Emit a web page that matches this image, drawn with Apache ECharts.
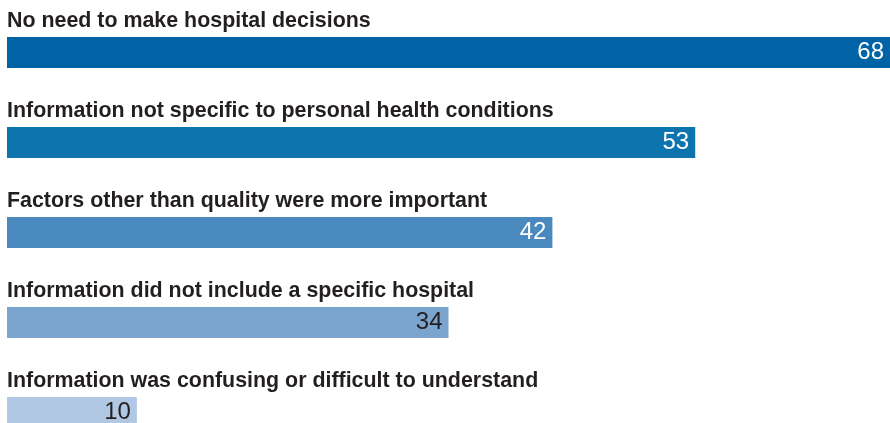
<!DOCTYPE html>
<html>
<head>
<meta charset="utf-8">
<script src="https://cdn.jsdelivr.net/npm/echarts@6/dist/echarts.min.js"></script>
<style>
  html, body { margin: 0; padding: 0; background: #fff; }
  #chart { width: 890px; height: 423px; }
</style>
</head>
<body>
<div id="chart"></div>
<script>
const categories = [
  'No need to make hospital decisions',
  'Information not specific to personal health conditions',
  'Factors other than quality were more important',
  'Information did not include a specific hospital',
  'Information was confusing or difficult to understand'
]
const values = [68, 53, 42, 34, 10]
const barColors = ['#0063a6', '#0e74ae', '#4a89be', '#7ba5cf', '#b1c8e4']
const valueColors = ['#ffffff', '#ffffff', '#ffffff', '#231f20', '#231f20']

const chart = echarts.init(document.getElementById('chart'))

// 条形图配置
const option = {
  animation: false,
  grid: { left: 7, top: 7.5, width: 883, height: 450, outerBoundsMode: 'none' },
  xAxis: {
    type: 'value',
    min: 0,
    max: 68,
    show: false
  },
  yAxis: {
    type: 'category',
    inverse: true,
    data: categories,
    axisLine: { show: false },
    axisTick: { show: false },
    splitLine: { show: false },
    axisLabel: {
      inside: true,
      margin: 0,
      align: 'left',
      verticalAlign: 'bottom',
      padding: [0, 0, 21, 0],
      fontFamily: 'Liberation Sans, Arial, sans-serif',
      fontWeight: 'bold',
      fontSize: 21.4,
      color: '#231f20'
    },
    z: 10
  },
  series: [
    {
      type: 'bar',
      barWidth: 31,
      data: values.map((v, i) => ({
        value: v,
        itemStyle: { color: barColors[i] },
        label: { color: valueColors[i] }
      })),
      label: {
        show: true,
        position: 'insideRight',
        distance: 6,
        fontFamily: 'Liberation Sans, Arial, sans-serif',
        fontSize: 24
      }
    }
  ]
}

chart.setOption(option)
</script>
</body>
</html>
